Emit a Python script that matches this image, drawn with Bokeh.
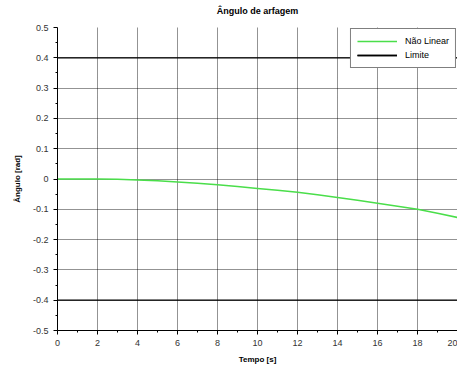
from bokeh.plotting import figure
from bokeh.models import FixedTicker, Legend, LegendItem, LinearAxis
from bokeh.embed import file_html
from bokeh.resources import INLINE

# ---- data ----
time_s = [0, 1, 2, 3, 4, 5, 6, 7, 8, 9, 10, 11, 12, 13, 14, 15, 16, 17, 18, 19, 20]
pitch_nonlinear = [0.0, 0.0, 0.0, -0.001, -0.003, -0.006, -0.010, -0.014, -0.019,
                   -0.025, -0.031, -0.037, -0.044, -0.052, -0.061, -0.070, -0.080,
                   -0.090, -0.100, -0.113, -0.127]
limits = [0.4, -0.4]
x_ticks = [0, 2, 4, 6, 8, 10, 12, 14, 16, 18, 20]
x_minor = [1, 3, 5, 7, 9, 11, 13, 15, 17, 19]
y_ticks = [-0.5, -0.4, -0.3, -0.2, -0.1, 0, 0.1, 0.2, 0.3, 0.4, 0.5]
y_labels = ["-0.5", "-0.4", "-0.3", "-0.2", "-0.1", "0", "0.1", "0.2", "0.3", "0.4", "0.5"]
y_minor = [-0.45, -0.35, -0.25, -0.15, -0.05, 0.05, 0.15, 0.25, 0.35, 0.45]
title_text = "Ângulo de arfagem"

FONT = "Liberation Sans"

p = figure(width=457, height=368, output_backend="svg", toolbar_location=None,
           x_range=(x_ticks[0], x_ticks[-1]), y_range=(y_ticks[0], y_ticks[-1]),
           min_border_left=57, min_border_right=0, min_border_top=27, min_border_bottom=38)

p.outline_line_color = None
p.background_fill_color = "white"
p.border_fill_color = "white"

bottom_axis = p.below[0]
left_axis = p.left[0]

x_ticker = FixedTicker(ticks=x_ticks, minor_ticks=x_minor)
y_ticker = FixedTicker(ticks=y_ticks, minor_ticks=y_minor)
bottom_axis.ticker = x_ticker
left_axis.ticker = y_ticker
p.xgrid[0].ticker = x_ticker
p.ygrid[0].ticker = y_ticker
left_axis.major_label_overrides = {float(v): s for v, s in zip(y_ticks, y_labels)}
bottom_axis.major_label_overrides = {v: str(v) for v in x_ticks}

for ax in (bottom_axis, left_axis):
    ax.axis_line_color = "black"
    ax.major_tick_line_color = "black"
    ax.minor_tick_line_color = "black"
    ax.major_tick_in = 0
    ax.major_tick_out = 4
    ax.minor_tick_in = 0
    ax.minor_tick_out = 2
    ax.major_label_text_font = FONT
    ax.major_label_text_font_size = "9px"
    ax.major_label_text_color = "#333333"
    ax.axis_label_text_font = FONT
    ax.axis_label_text_font_size = "8px"
    ax.axis_label_text_font_style = "bold"
    ax.axis_label_text_color = "black"
bottom_axis.axis_label = "Tempo [s]"
left_axis.axis_label = "Ângulo [rad]"
bottom_axis.major_label_standoff = 5
left_axis.major_label_standoff = 5
bottom_axis.axis_label_standoff = 6
left_axis.axis_label_standoff = 8

# title drawn as the label of a bare axis above the frame
top_axis = LinearAxis(ticker=FixedTicker(ticks=[]), axis_label=title_text,
                      axis_line_color=None, major_tick_line_color=None,
                      minor_tick_line_color=None, major_label_text_font_size="0px",
                      major_tick_out=0, major_tick_in=0, minor_tick_out=0, minor_tick_in=0,
                      major_label_standoff=0,
                      axis_label_standoff=12, axis_label_text_font=FONT,
                      axis_label_text_font_size="9px", axis_label_text_font_style="bold",
                      axis_label_text_color="black")
p.add_layout(top_axis, "above")

# grid
for g in (p.xgrid[0], p.ygrid[0]):
    g.grid_line_color = "black"
    g.grid_line_dash = "1 1"
    g.grid_line_width = 1
    g.grid_line_alpha = 0.85

r_nl = p.line(time_s, pitch_nonlinear, line_color="#4ade4a", line_width=1.5)
r_lims = [p.line([time_s[0], time_s[-1]], [lim, lim], line_color="black", line_width=1.3)
          for lim in limits]

legend = Legend(items=[LegendItem(label="Não Linear", renderers=[r_nl]),
                       LegendItem(label="Limite", renderers=r_lims)],
                location="top_right")
legend.border_line_color = "black"
legend.border_line_width = 1
legend.background_fill_color = "white"
legend.background_fill_alpha = 1
legend.margin = 1
legend.padding = 6
legend.spacing = 2
legend.glyph_width = 40
legend.glyph_height = 12
legend.label_height = 12
legend.label_standoff = 8
legend.label_text_font = FONT
legend.label_text_font_size = "9px"
legend.label_text_color = "black"
p.add_layout(legend)

open("out.html", "w").write(file_html(p, INLINE))
